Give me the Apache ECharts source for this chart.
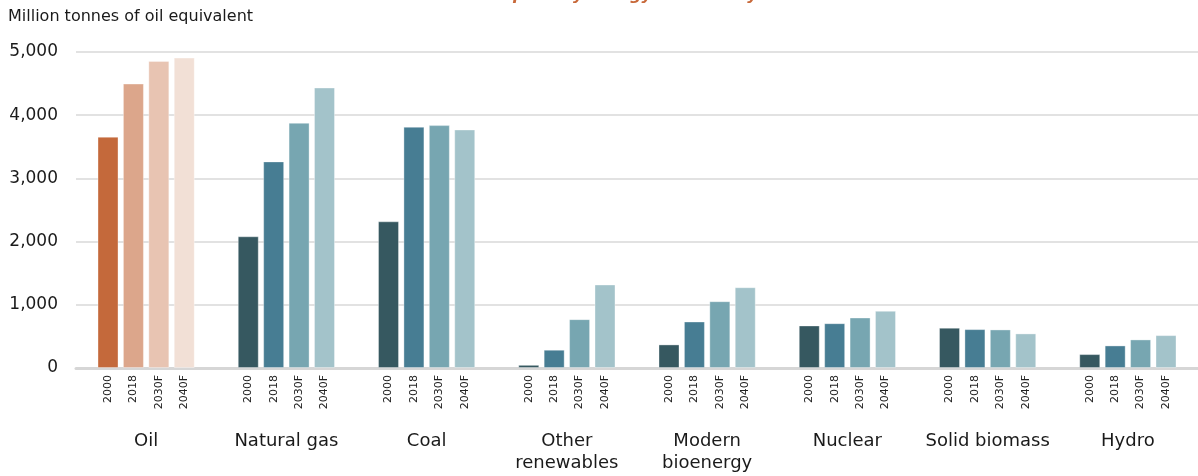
<!DOCTYPE html>
<html>
<head>
<meta charset="utf-8">
<script src="https://cdn.jsdelivr.net/npm/echarts@6/dist/echarts.min.js"></script>
<style>
html,body{margin:0;padding:0;background:#fff;}
#chart{width:1198px;height:476px;}
</style>
</head>
<body>
<div id="chart"></div>
<script>
const categories = ['Oil', 'Natural gas', 'Coal', 'Other\nrenewables', 'Modern\nbioenergy', 'Nuclear', 'Solid biomass', 'Hydro'];
const years = ['2000', '2018', '2030F', '2040F'];
const v2000  = [3660, 2084, 2321,   50,  373, 673, 637, 220];
const v2018  = [4501, 3269, 3817,  289,  736, 709, 615, 357];
const v2030F = [4859, 3880, 3843,  773, 1057, 799, 610, 452];
const v2040F = [4912, 4438, 3774, 1321, 1278, 905, 547, 520];
const yTicks = [0, 1000, 2000, 3000, 4000, 5000];

const seriesValues = [v2000, v2018, v2030F, v2040F];
const blueColors = ['#365860', '#477d93', '#77a6b1', '#a3c3ca'];
const oilColors = ['#c4693b', '#dca68b', '#e8c4b2', '#f2e0d6'];
const FONT = 'DejaVu Sans, Verdana, sans-serif';

const chart = echarts.init(document.getElementById('chart'));
const series = years.map((yr, i) => ({
  name: yr,
  type: 'bar',
  barWidth: 21,
  barGap: '21%',
  itemStyle: { color: blueColors[i], borderColor: 'rgba(255,255,255,0.35)', borderWidth: 1 },
  data: seriesValues[i].map((v, j) => j === 0 ? { value: v, itemStyle: { color: oilColors[i] } } : v),
  label: {
    show: true,
    position: ['50%', '100%'],
    rotate: 90,
    align: 'right',
    verticalAlign: 'middle',
    offset: [-7, 0],
    formatter: () => yr,
    fontSize: 11,
    fontFamily: FONT,
    color: '#222'
  },
  emphasis: { disabled: true }
}));

chart.setOption({
  animation: false,
  backgroundColor: '#fff',
  title: [
    {
      text: 'Global primary energy demand by fuel',
      left: 445,
      top: -17,
      textStyle: { color: '#c8693a', fontSize: 16, fontStyle: 'italic', fontWeight: 'bold', fontFamily: FONT }
    },
    {
      text: 'Million tonnes of oil equivalent',
      left: 3,
      top: 4,
      textStyle: { color: '#1a1a1a', fontSize: 16, fontWeight: 'normal', fontFamily: FONT }
    }
  ],
  grid: { left: 76, right: 0, top: 52, bottom: 108, containLabel: false },
  xAxis: {
    type: 'category',
    data: categories,
    axisLine: { lineStyle: { color: '#d6d6d6', width: 3 } },
    axisTick: { show: false },
    axisLabel: {
      interval: 0,
      margin: 62,
      fontSize: 18,
      lineHeight: 22,
      fontFamily: FONT,
      color: '#1a1a1a'
    }
  },
  yAxis: {
    type: 'value',
    min: yTicks[0],
    max: yTicks[yTicks.length - 1],
    interval: 1000,
    axisLine: { show: false },
    axisTick: { show: false },
    splitLine: { lineStyle: { color: '#e2e2e2', width: 2 } },
    axisLabel: {
      margin: 18,
      fontSize: 17,
      fontFamily: FONT,
      color: '#1a1a1a',
      formatter: v => v.toLocaleString('en-US')
    }
  },
  series: series
});
</script>
</body>
</html>
